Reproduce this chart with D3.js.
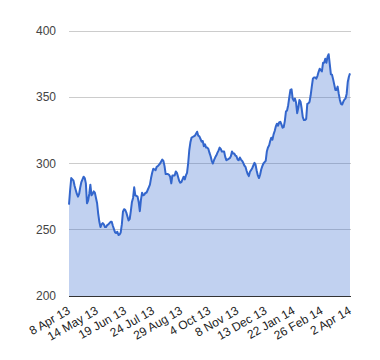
<!DOCTYPE html>
<meta charset="utf-8">
<style>
  body { margin: 0; background: #fff; }
  text { font-family: Arial, "Liberation Sans", sans-serif; font-size: 12px; fill: #222; }
</style>

<!-- Load d3.js -->
<script src="https://d3js.org/d3.v7.min.js"></script>

<!-- Create a div where the graph will take place -->
<div id="my_dataviz"></div>

<script>

// closing prices, one per trading day (8 Apr 13 .. 2 Apr 14)
var values = [
  269, 280, 289, 288, 287, 283, 280, 277, 275, 277,
  282, 286, 288, 290, 289, 285, 270, 272, 277, 284,
  276, 277, 279, 278, 274, 270, 262, 256, 252, 254,
  255, 254, 252, 252, 253.5, 254, 255, 256, 256, 253,
  250.5, 248, 247.5, 248.5, 246, 246.5, 248, 254, 263.6, 265.5,
  265, 263, 260, 257, 258, 264, 271, 274, 282, 276,
  275.5, 275, 271, 264, 272.5, 278, 276, 276.5, 278, 278,
  280, 282, 284, 289, 293, 296, 295.5, 295, 297.5, 298,
  299, 300, 301.5, 303, 302, 298, 292, 292, 292, 291.5,
  290, 285, 291, 291, 291, 294, 293, 290, 287, 285.5,
  286, 288, 290, 288, 291, 293, 300, 310, 316, 319.5,
  320, 320.5, 321, 322.5, 324, 321, 320.5, 318.5, 316.5, 317,
  313, 314.5, 312, 312, 311, 308, 305.5, 302, 300, 302.5,
  304.5, 306, 308, 309.7, 312, 311, 309, 309, 309, 305,
  302.5, 303, 303.5, 304, 305.5, 309, 307.5, 307.5, 306, 305.5,
  303, 302.5, 304.5, 303, 302, 300.5, 298.5, 297.5, 294.5, 292,
  290.5, 293.8, 295, 296.5, 298.5, 300.5, 299, 294.5, 291, 289,
  291.5, 295.5, 298, 300, 301, 302, 309, 312, 313.5, 317,
  319.5, 318, 322, 324.5, 328, 330, 328.5, 331, 331.5, 329.5,
  327, 327.5, 332, 339.2, 340, 344, 350, 355.5, 356, 349,
  347.4, 349, 346, 338, 342, 348, 346.6, 341.5, 335, 332.8,
  332.8, 333.6, 345, 345.4, 346.5, 351.5, 358, 364, 365, 365,
  364, 366, 369, 371.5, 370.5, 369.5, 376, 376, 379, 376,
  380.5, 382.5, 375, 367.3, 367, 363.5, 359.5, 355.5, 355.5, 358,
  352.5, 348, 345, 344.5, 346.6, 348.2, 349, 352.5, 361.5, 365.5,
  368
];

// x labels, every 25th trading day
var tickLabels = ["8 Apr 13", "14 May 13", "19 Jun 13", "24 Jul 13", "29 Aug 13",
  "4 Oct 13", "8 Nov 13", "13 Dec 13", "22 Jan 14", "26 Feb 14", "2 Apr 14"];
var tickEvery = 25;

var yTicks = [200, 250, 300, 350, 400];

var data = values.map(function(v, i) { return { i: i, value: v }; });

// set the dimensions and margins of the graph
var margin = {top: 31, right: 30, bottom: 64, left: 69},
    width = 380 - margin.left - margin.right,
    height = 360 - margin.top - margin.bottom;

var svg = d3.select("#my_dataviz")
  .append("svg")
    .attr("width", width + margin.left + margin.right)
    .attr("height", height + margin.top + margin.bottom)
  .append("g")
    .attr("transform", "translate(" + margin.left + "," + margin.top + ")");

var x = d3.scaleLinear()
  .domain([0, values.length - 1])
  .range([0, width]);

var y = d3.scaleLinear()
  .domain([200, 400])
  .range([height, 0]);

// gridlines
svg.append("g")
  .selectAll("line")
  .data(yTicks.slice(1))
  .enter()
  .append("line")
    .attr("x1", 0)
    .attr("x2", width + 1)
    .attr("y1", function(d) { return y(d); })
    .attr("y2", function(d) { return y(d); })
    .attr("stroke", "#cccccc")
    .attr("stroke-width", 1)
    .attr("shape-rendering", "crispEdges");

// y labels
svg.append("g")
  .selectAll("text")
  .data(yTicks)
  .enter()
  .append("text")
    .attr("x", -13)
    .attr("y", function(d) { return y(d); })
    .attr("dy", "0.35em")
    .attr("text-anchor", "end")
    .style("fill", "#444")
    .text(function(d) { return d; });

// area + line
svg.append("path")
  .datum(data)
  .attr("fill", "#3366cc")
  .attr("fill-opacity", 0.3)
  .attr("d", d3.area()
    .x(function(d) { return x(d.i); })
    .y0(y(200))
    .y1(function(d) { return y(d.value); }));

svg.append("path")
  .datum(data)
  .attr("fill", "none")
  .attr("stroke", "#3366cc")
  .attr("stroke-width", 2)
  .attr("stroke-linejoin", "round")
  .attr("d", d3.line()
    .x(function(d) { return x(d.i); })
    .y(function(d) { return y(d.value); }));

// baseline
svg.append("line")
  .attr("x1", 0)
  .attr("x2", width + 1)
  .attr("y1", y(200))
  .attr("y2", y(200))
  .attr("stroke", "#333")
  .attr("stroke-width", 1)
  .attr("shape-rendering", "crispEdges");

// slanted x labels
svg.append("g")
  .selectAll("text")
  .data(tickLabels)
  .enter()
  .append("text")
    .attr("text-anchor", "end")
    .attr("transform", function(d, i) {
      return "translate(" + (x(i * tickEvery) + 2) + "," + (height + 17) + ") rotate(-30)";
    })
    .style("fill", "#222")
    .text(function(d) { return d; });

</script>
